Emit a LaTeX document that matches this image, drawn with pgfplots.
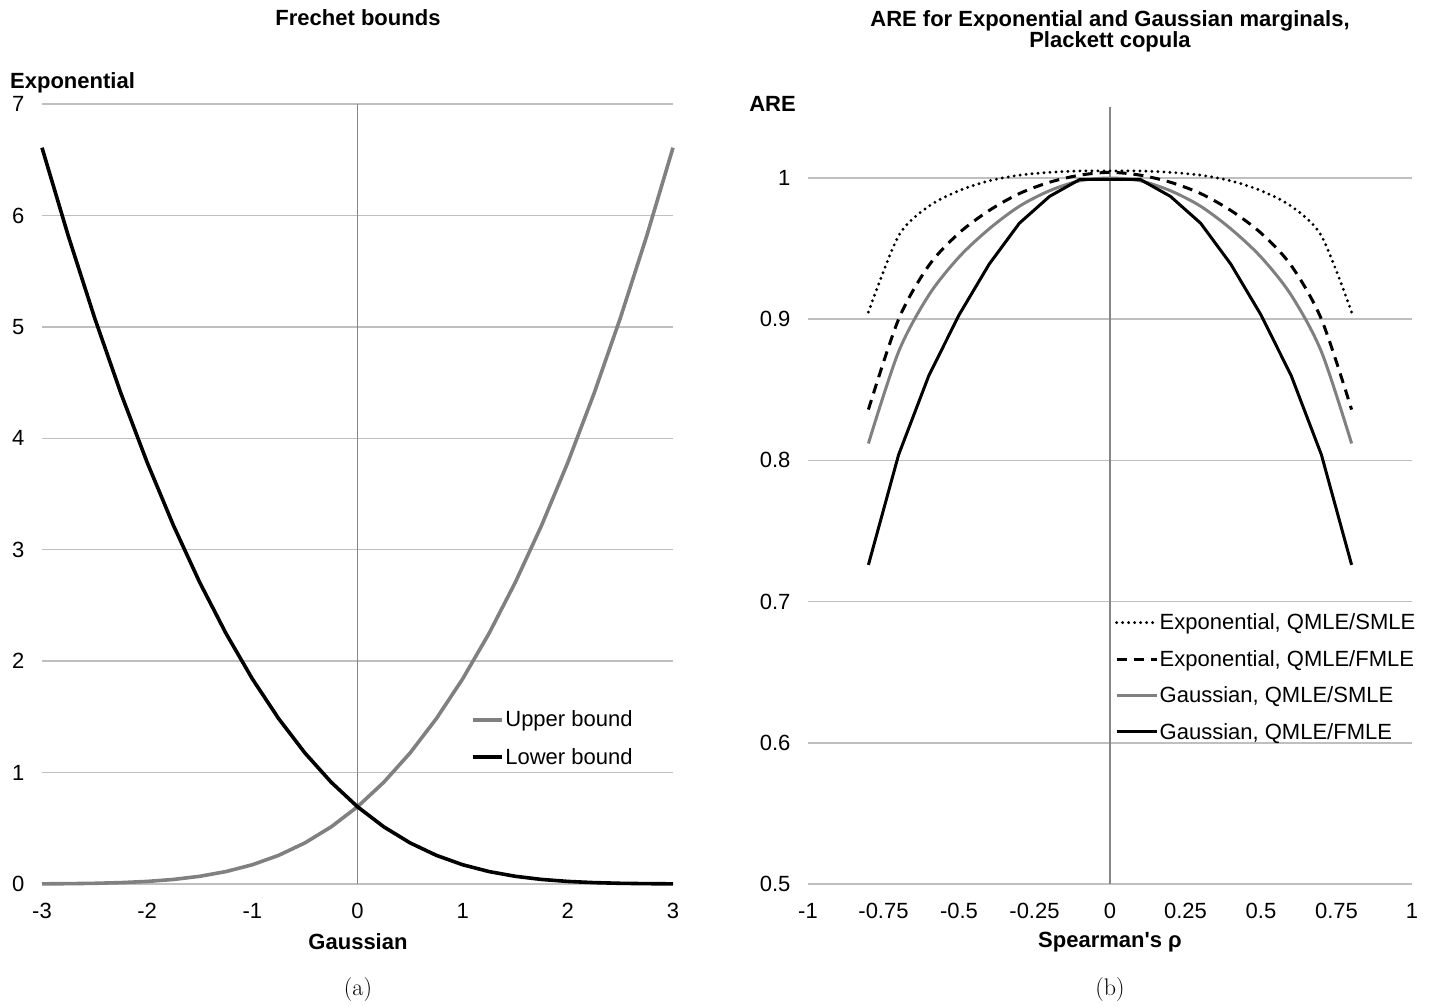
\documentclass[border=0pt]{standalone}
\usepackage{fontspec}
\usepackage{pgfplots}
\pgfplotsset{compat=1.18}
\newfontfamily\arial{Liberation Sans}
\definecolor{gridgray}{RGB}{191,191,191}
\definecolor{axisgray}{RGB}{134,134,134}
\definecolor{curvegray}{RGB}{128,128,128}
\newcommand{\chartfont}{\fontsize{22}{24}\selectfont\arial}
\pgfplotsset{mystyle/.style={
  scale only axis, anchor=south west, clip=false,
  axis line style={draw=none}, major tick length=0pt,
  ymajorgrids, major grid style={gridgray, line width=1.5pt},
  tick label style={font=\chartfont},
  /pgf/number format/assume math mode=true,
  xticklabel style={yshift=-16pt},
  yticklabel style={xshift=-14pt},
  legend style={draw=none, fill=none, anchor=north west, font=\chartfont,
    inner sep=0pt, nodes={inner sep=1.5pt}},
  legend cell align=left,
}}
\begin{document}
\begin{tikzpicture}
\path[use as bounding box] (0,0) rectangle (1435pt,1007pt);
% ---------- left chart ----------
\begin{axis}[mystyle,
  at={(42pt,123pt)}, width=631pt, height=780pt,
  xmin=-3, xmax=3, ymin=0, ymax=7,
  xtick={-3,-2,-1,0,1,2,3}, xticklabels={-3,-2,-1,0,1,2,3},
  ytick={0,1,2,3,4,5,6,7}, yticklabels={0,1,2,3,4,5,6,7},
  legend style={at={(0.680,0.224)}, row sep=17pt},
  legend image code/.code={\draw[#1] (0pt,0pt) -- (29pt,0pt);},
]
\draw[axisgray, line width=1.3pt] (axis cs:0,0) -- (axis cs:0,7);
\addplot[curvegray, line width=3.6pt] coordinates {
(-3,0.00135) (-2.75,0.00298) (-2.5,0.00623) (-2.25,0.01230) (-2,0.02301)
(-1.75,0.04088) (-1.5,0.06914) (-1.25,0.11166) (-1,0.17275) (-0.75,0.25700)
(-0.5,0.36895) (-0.25,0.51299) (0,0.69315) (0.25,0.91306) (0.5,1.17591)
(0.75,1.48445) (1,1.84102) (1.25,2.24762) (1.5,2.70595) (1.75,3.21740)
(2,3.78319) (2.25,4.40436) (2.5,5.08159) (2.75,5.81583) (3,6.60765)};
\addlegendentry{Upper bound}
\addplot[black, line width=3.6pt] coordinates {
(-3,6.60765) (-2.75,5.81583) (-2.5,5.08159) (-2.25,4.40436) (-2,3.78319)
(-1.75,3.21740) (-1.5,2.70595) (-1.25,2.24762) (-1,1.84102) (-0.75,1.48445)
(-0.5,1.17591) (-0.25,0.91306) (0,0.69315) (0.25,0.51299) (0.5,0.36895)
(0.75,0.25700) (1,0.17275) (1.25,0.11166) (1.5,0.06914) (1.75,0.04088)
(2,0.02301) (2.25,0.01230) (2.5,0.00623) (2.75,0.00298) (3,0.00135)};
\addlegendentry{Lower bound}
\end{axis}
% ---------- right chart ----------
\begin{axis}[mystyle,
  at={(808pt,123pt)}, width=604pt, height=776.6pt,
  xmin=-1, xmax=1, ymin=0.5, ymax=1.05,
  xtick={-1,-0.75,-0.5,-0.25,0,0.25,0.5,0.75,1},
  xticklabels={-1,-0.75,-0.5,-0.25,0,0.25,0.5,0.75,1},
  ytick={0.5,0.6,0.7,0.8,0.9,1}, yticklabels={0.5,0.6,0.7,0.8,0.9,1},
  legend style={at={(0.508,0.350)}, row sep=16pt},
  legend image code/.code={\draw[#1] (0pt,0pt) -- (40pt,0pt);},
]
\draw[axisgray, line width=1.3pt] (axis cs:0,0.5) -- (axis cs:0,1.05);
\addplot[black, line width=3.2pt, line cap=round, dash pattern=on 0pt off 6pt, smooth, tension=0.5] coordinates {
(-0.8,0.905) (-0.7,0.959) (-0.6,0.980) (-0.5,0.991) (-0.4,0.998) (-0.3,1.002)
(-0.2,1.004) (-0.1,1.005) (0,1.005) (0.1,1.005) (0.2,1.004) (0.3,1.002)
(0.4,0.998) (0.5,0.991) (0.6,0.980) (0.7,0.959) (0.8,0.905)};
\addlegendentry{Exponential, QMLE/SMLE}
\addplot[black, line width=3pt, dash pattern=on 10pt off 7pt, smooth, tension=0.5] coordinates {
(-0.8,0.836) (-0.7,0.900) (-0.6,0.938) (-0.5,0.961) (-0.4,0.977) (-0.3,0.989)
(-0.2,0.997) (-0.1,1.002) (0,1.004) (0.1,1.002) (0.2,0.997) (0.3,0.989)
(0.4,0.977) (0.5,0.961) (0.6,0.938) (0.7,0.900) (0.8,0.836)};
\addlegendentry{Exponential, QMLE/FMLE}
\addplot[curvegray, line width=3pt, smooth, tension=0.5] coordinates {
(-0.8,0.812) (-0.7,0.877) (-0.6,0.917) (-0.5,0.944) (-0.4,0.964) (-0.3,0.980)
(-0.2,0.991) (-0.1,0.998) (0,1.000) (0.1,0.998) (0.2,0.991) (0.3,0.980)
(0.4,0.964) (0.5,0.944) (0.6,0.917) (0.7,0.877) (0.8,0.812)};
\addlegendentry{Gaussian, QMLE/SMLE}
\addplot[black, line width=3pt] coordinates {
(-0.8,0.726) (-0.7,0.804) (-0.6,0.860) (-0.5,0.903) (-0.4,0.939) (-0.3,0.968)
(-0.2,0.987) (-0.1,0.999) (0,0.999) (0.1,0.999) (0.2,0.987) (0.3,0.968)
(0.4,0.939) (0.5,0.903) (0.6,0.860) (0.7,0.804) (0.8,0.726)};
\addlegendentry{Gaussian, QMLE/FMLE}
\end{axis}
% ---------- titles and labels ----------
\node[font=\chartfont\bfseries] at (358pt,989pt) {Frechet bounds};
\node[font=\chartfont\bfseries, align=center, inner sep=0pt] at (1110pt,975.5pt)
  {ARE for Exponential and Gaussian marginals,\\[-3pt]Plackett copula};
\node[font=\chartfont\bfseries, anchor=west, inner sep=0pt] at (10pt,924pt) {Exponential};
\node[font=\chartfont\bfseries, anchor=east, inner sep=0pt] at (796pt,903pt) {ARE};
\node[font=\chartfont\bfseries] at (358pt,65pt) {Gaussian};
\node[font=\chartfont\bfseries] at (1110pt,65pt) {Spearman's ρ};
\node[font=\fontsize{24}{28}\selectfont] at (358pt,17pt) {(a)};
\node[font=\fontsize{24}{28}\selectfont] at (1110pt,17pt) {(b)};
\end{tikzpicture}
\end{document}
